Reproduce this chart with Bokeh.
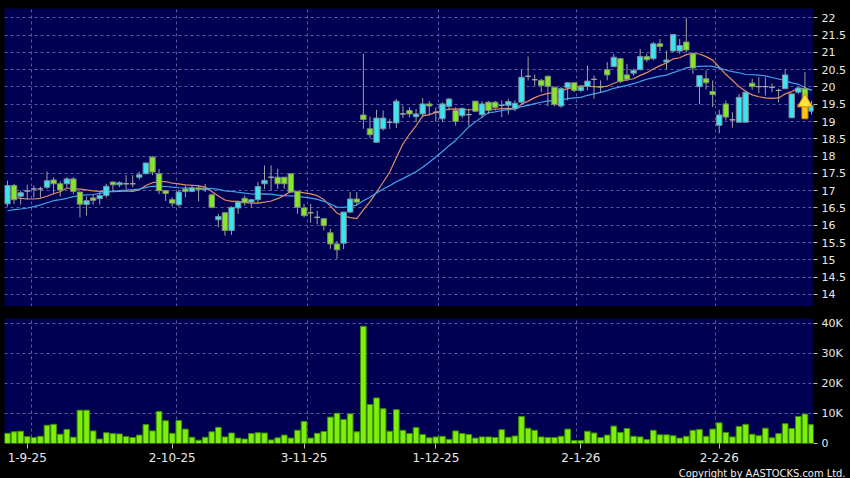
from bokeh.plotting import figure
from bokeh.layouts import column
from bokeh.models import ColumnDataSource, FixedTicker, Range1d, Title, GlobalInlineStyleSheet
from bokeh.embed import file_html
from bokeh.resources import INLINE

# ---------------- data ----------------
opens = [16.62, 17.15, 16.84, 16.99, 17.05, 17.05, 17.1, 17.31, 17.2, 17.2,
         17.34, 16.96, 16.6, 16.79, 16.77, 16.86, 17.25, 17.17, 17.2, 17.2,
         17.39, 17.49, 17.97, 17.49, 17.0, 16.74, 16.59, 17.05, 16.98, 17.08,
         17.03, 16.88, 16.16, 16.36, 15.85, 16.5, 16.78, 16.67, 16.74, 17.2,
         17.39, 17.39, 17.39, 17.49, 16.98, 16.5, 16.36, 16.23, 16.19, 15.78,
         15.46, 15.48, 16.38, 16.76, 19.19, 18.79, 18.4, 18.79, 18.98, 18.96,
         19.22, 19.32, 19.14, 19.22, 19.51, 19.27, 19.08, 19.44, 19.32, 19.17,
         19.2, 19.59, 19.2, 19.56, 19.56, 19.47, 19.47, 19.37, 19.56, 20.31,
         20.21, 20.19, 20.31, 19.99, 19.45, 19.98, 20.12, 19.9, 20.02, 20.22,
         20.01, 20.5, 20.59, 20.82, 20.35, 20.4, 20.5, 20.88, 20.82, 21.25,
         20.72, 21.04, 21.04, 21.3, 20.96, 20.01, 20.24, 19.87, 18.89, 19.51,
         19.05, 18.98, 18.98, 20.11, 20.01, 20.01, 19.99, 19.9, 19.95, 19.11,
         19.85, 19.95, 19.3]
highs = [17.29, 17.2, 17.0, 17.17, 17.15, 17.12, 17.55, 17.39, 17.27, 17.39,
         17.39, 16.98, 16.83, 16.88, 16.96, 17.2, 17.27, 17.27, 17.45, 17.45,
         17.55, 17.82, 18.0, 17.63, 17.03, 16.81, 17.03, 17.15, 17.17, 17.17,
         17.2, 16.91, 16.33, 16.38, 16.55, 16.71, 16.86, 16.76, 17.25, 17.73,
         17.73, 17.63, 17.39, 17.49, 17.0, 16.62, 16.62, 16.42, 16.19, 15.9,
         15.55, 16.38, 16.96, 16.96, 20.96, 19.14, 19.34, 19.32, 19.08, 19.65,
         19.46, 19.41, 19.36, 19.68, 19.59, 19.41, 19.56, 19.68, 19.41, 19.41,
         19.37, 19.6, 19.59, 19.59, 19.6, 19.61, 19.66, 19.61, 20.5, 20.88,
         20.36, 20.24, 20.33, 20.01, 20.0, 20.14, 20.14, 20.04, 20.62, 20.33,
         20.19, 20.72, 20.96, 20.84, 20.67, 20.53, 21.1, 20.96, 21.3, 21.39,
         21.05, 21.52, 21.39, 22.0, 21.0, 20.33, 20.48, 20.19, 19.34, 19.61,
         19.27, 19.8, 19.9, 20.24, 20.28, 20.28, 20.1, 19.95, 20.5, 19.8,
         20.0, 20.43, 19.6]
lows = [16.54, 16.62, 16.6, 16.74, 16.8, 16.8, 17.05, 16.9, 16.83, 17.1,
        16.9, 16.23, 16.28, 16.6, 16.6, 16.8, 16.98, 17.1, 17.05, 17.1,
        17.32, 17.47, 17.45, 16.9, 16.7, 16.54, 16.54, 16.81, 16.96, 16.69,
        16.96, 16.49, 15.94, 15.7, 15.72, 16.33, 16.57, 16.52, 16.64, 17.05,
        17.0, 17.05, 17.05, 16.94, 16.33, 16.23, 16.07, 16.03, 15.85, 15.32,
        15.03, 15.31, 16.35, 16.57, 18.79, 18.52, 18.4, 18.74, 18.79, 18.81,
        19.1, 19.12, 18.98, 19.12, 19.17, 19.0, 18.98, 19.32, 18.88, 19.1,
        18.88, 19.27, 19.1, 19.22, 19.32, 19.13, 19.2, 19.3, 19.51, 20.19,
        20.04, 19.85, 19.44, 19.44, 19.4, 19.61, 19.85, 19.85, 19.9, 19.66,
        19.85, 20.19, 20.57, 20.11, 20.17, 20.33, 20.48, 20.72, 20.77, 21.04,
        20.52, 21.0, 20.96, 21.0, 20.38, 19.5, 19.93, 19.42, 18.66, 19.03,
        18.82, 18.98, 18.98, 19.92, 19.82, 19.75, 19.85, 19.56, 19.95, 19.11,
        19.8, 19.61, 19.2]
closes = [17.15, 16.74, 16.94, 16.99, 17.05, 17.05, 17.29, 17.2, 17.02, 17.34,
          16.98, 16.61, 16.71, 16.72, 16.86, 17.13, 17.17, 17.23, 17.2, 17.2,
          17.46, 17.8, 17.54, 17.0, 16.92, 16.64, 16.96, 16.98, 17.08, 17.03,
          17.07, 16.52, 16.25, 15.85, 16.52, 16.67, 16.65, 16.74, 17.12, 17.3,
          17.39, 17.2, 17.2, 16.96, 16.52, 16.28, 16.36, 16.23, 15.99, 15.46,
          15.29, 16.38, 16.76, 16.67, 19.06, 18.62, 19.1, 19.1, 18.98, 19.59,
          19.22, 19.22, 19.22, 19.51, 19.45, 19.27, 19.51, 19.65, 19.0, 19.38,
          19.2, 19.3, 19.51, 19.32, 19.41, 19.47, 19.58, 19.53, 20.28, 20.31,
          20.21, 20.04, 20.02, 19.49, 19.95, 20.12, 19.9, 20.0, 20.17, 20.22,
          20.01, 20.35, 20.86, 20.16, 20.22, 20.48, 20.88, 20.79, 21.25, 21.17,
          20.78, 21.52, 21.2, 21.07, 20.55, 20.33, 20.12, 19.78, 19.19, 19.13,
          19.05, 19.7, 19.85, 20.01, 20.01, 20.01, 19.99, 19.9, 20.35, 19.8,
          19.97, 19.66, 19.46]
volumes_k = [3.4, 3.9, 4.1, 2.3, 2.0, 2.4, 6.1, 6.4, 3.1, 4.7,
             2.1, 11.1, 11.1, 4.2, 1.5, 3.6, 3.3, 3.2, 2.3, 2.0,
             2.8, 6.3, 4.2, 10.7, 7.6, 3.4, 7.7, 4.8, 2.1, 1.1,
             2.1, 3.9, 5.4, 2.2, 3.5, 1.8, 1.5, 3.3, 3.6, 3.5,
             1.2, 1.9, 2.8, 1.8, 4.4, 7.4, 1.8, 3.4, 4.0, 8.8,
             10.1, 8.0, 9.9, 3.9, 39.1, 13.0, 15.2, 11.6, 4.1, 11.3,
             4.4, 3.3, 5.3, 3.0, 1.9, 2.2, 2.4, 1.4, 4.2, 3.3,
             3.0, 1.8, 2.2, 2.2, 2.0, 4.6, 2.1, 2.5, 9.0, 5.1,
             4.4, 2.2, 2.0, 2.0, 2.4, 4.8, 1.0, 1.0, 4.1, 3.5,
             2.0, 2.8, 5.8, 3.7, 5.0, 2.4, 2.2, 1.3, 4.4, 2.9,
             2.9, 2.6, 1.8, 2.4, 4.4, 4.7, 2.4, 4.8, 6.9, 3.7,
             2.2, 5.7, 6.4, 3.1, 2.6, 5.1, 1.9, 3.3, 6.6, 5.0,
             9.0, 9.8, 6.3]
# moving-average values at the start of the window (they depend on earlier days)
ma10_head = [16.84, 16.81, 16.78, 16.76, 16.76, 16.78, 16.84, 16.91, 16.97]
ma20_head = [16.42, 16.45, 16.47, 16.50, 16.54, 16.59, 16.65, 16.71, 16.74, 16.78,
             16.83, 16.86, 16.88, 16.89, 16.92, 16.96, 16.98, 17.00, 17.02]

date_idx = [3, 25, 45, 65, 87, 108]
date_labels = ["1-9-25", "2-10-25", "3-11-25", "1-12-25", "2-1-26", "2-2-26"]
grid_idx = [3.6, 25.6, 45.5, 65.4, 86.4, 107.5]
price_ticks = [14, 14.5, 15, 15.5, 16, 16.5, 17, 17.5, 18, 18.5, 19, 19.5, 20, 20.5, 21, 21.5, 22]
price_tick_labels = ["14", "14.5", "15", "15.5", "16", "16.5", "17", "17.5", "18", "18.5",
                     "19", "19.5", "20", "20.5", "21", "21.5", "22"]
vol_ticks = [0, 10000, 20000, 30000, 40000]
vol_tick_labels = ["0", "10K", "20K", "30K", "40K"]
signal_idx = [121]
signal_price = [19.8]
copyright_text = "Copyright by AASTOCKS.com Ltd."

# ---------------- derived ----------------
def sma(vals, n, head):
    out = list(head)
    for i in range(len(head), len(vals)):
        out.append(sum(vals[i - n + 1:i + 1]) / n)
    return out

n = len(closes)
idx = list(range(n))
ma10 = sma(closes, 10, ma10_head)
ma20 = sma(closes, 20, ma20_head)

CYAN = "#3de3f0"
GREEN = "#86e62a"
GRAY = "#a8a8a8"
NAVY = "#000052"
GRIDC = "#5a5aa6"

colors, borders = [], []
for o, c in zip(opens, closes):
    if c > o:
        colors.append(CYAN); borders.append("#7f8f9a")
    elif c < o:
        colors.append(GREEN); borders.append("#7f8f7a")
    else:
        colors.append(GRAY); borders.append(GRAY)

src = ColumnDataSource(dict(
    x=idx, o=opens, h=highs, l=lows, c=closes,
    top=[max(a, b) for a, b in zip(opens, closes)],
    bot=[min(a, b) for a, b in zip(opens, closes)],
    col=colors, bcol=borders, vol=[v * 1000 for v in volumes_k],
    ma10=ma10, ma20=ma20))

FONT = "DejaVu Sans"
LABELC = "#e8e8e8"

def style_common(fig):
    fig.yaxis.axis_line_color = None
    fig.yaxis.major_tick_line_color = "#bdbdbd"
    fig.yaxis.major_tick_out = 4
    fig.yaxis.major_tick_in = 0
    fig.yaxis.minor_tick_line_color = None
    fig.yaxis.major_label_text_font = FONT
    fig.yaxis.major_label_text_font_size = "11px"
    fig.yaxis.major_label_text_color = LABELC
    fig.yaxis.major_label_standoff = 4
    fig.xgrid.ticker = FixedTicker(ticks=grid_idx)
    for g in list(fig.xgrid) + list(fig.ygrid):
        g.grid_line_color = GRIDC
        g.grid_line_dash = "3 3"
        g.grid_line_width = 1

# ---------------- price panel ----------------
p = figure(frame_width=809, frame_height=298,
           x_range=Range1d(-0.45, 122.3), y_range=Range1d(13.65, 22.27),
           y_axis_location="right", x_axis_location=None,
           output_backend="svg", toolbar_location=None,
           min_border_left=4, min_border_top=8, min_border_bottom=0, min_border_right=37,
           background_fill_color=NAVY, border_fill_color="black", outline_line_color=None)
p.yaxis.ticker = FixedTicker(ticks=price_ticks)
p.yaxis.major_label_overrides = {t: s for t, s in zip(price_ticks, price_tick_labels)}
style_common(p)

p.line("x", "ma10", source=src, line_color="#e58d5f", line_width=1.2)
p.line("x", "ma20", source=src, line_color="#3fa6ee", line_width=1.2)
p.segment(x0="x", y0="l", x1="x", y1="h", source=src, line_color="#a0a0a0", line_width=1)
p.vbar(x="x", top="top", bottom="bot", width=0.82, source=src,
       fill_color="col", line_color="bcol", line_width=1)

# buy-signal arrow
arrow_src = ColumnDataSource(dict(
    x=signal_idx,
    head=[v - 0.25 for v in signal_price],
    s_top=[v - 0.36 for v in signal_price],
    s_bot=[v - 0.72 for v in signal_price]))
p.vbar(x="x", top="s_top", bottom="s_bot", width=0.9, source=arrow_src,
       fill_color="#ffc61a", line_color="#d88a00", line_width=1)
p.scatter(x="x", y="head", source=arrow_src, marker="triangle", size=15,
          fill_color="#ffe23a", line_color="#d88a00", line_width=1)

# ---------------- volume panel ----------------
v = figure(frame_width=809, frame_height=125,
           x_range=p.x_range, y_range=Range1d(0, 41700),
           y_axis_location="right",
           output_backend="svg", toolbar_location=None,
           min_border_left=4, min_border_top=12, min_border_bottom=35, min_border_right=37,
           background_fill_color=NAVY, border_fill_color="black", outline_line_color=None)
v.yaxis.ticker = FixedTicker(ticks=vol_ticks)
v.yaxis.major_label_overrides = {t: s for t, s in zip(vol_ticks, vol_tick_labels)}
v.ygrid.ticker = FixedTicker(ticks=vol_ticks[1:])
style_common(v)
v.xaxis.ticker = FixedTicker(ticks=date_idx)
v.xaxis.major_label_overrides = {t: s for t, s in zip(date_idx, date_labels)}
v.xaxis.axis_line_color = None
v.xaxis.major_tick_line_color = "#bdbdbd"
v.xaxis.major_tick_out = 5
v.xaxis.major_tick_in = 0
v.xaxis.minor_tick_line_color = None
v.xaxis.major_label_text_font = FONT
v.xaxis.major_label_text_font_size = "12px"
v.xaxis.major_label_text_color = LABELC
v.xaxis.major_label_standoff = 4

v.vbar(x="x", top="vol", bottom=0, width=0.86, source=src,
       fill_color="#7cf00a", line_color="#3f8c00", line_width=1)

v.add_layout(Title(text=copyright_text, align="right", offset=-32, standoff=0,
                   text_font="'DejaVu Sans Condensed', 'Liberation Sans Narrow', 'Liberation Sans'",
                   text_font_size="11px", text_font_style="normal", text_color="#f0f0f0"),
             "below")

layout = column(p, v, spacing=0)
layout.stylesheets = [GlobalInlineStyleSheet(css="html, body { overflow: hidden; background: black; }")]

open("out.html", "w").write(file_html(layout, INLINE))
